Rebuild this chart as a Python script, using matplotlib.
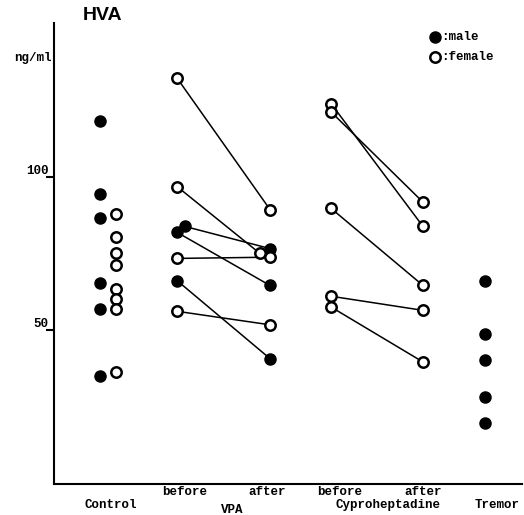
#!/usr/bin/env python3
import matplotlib
matplotlib.use('Agg')
import matplotlib.pyplot as plt

# HVA levels (ng/ml)
control_male = [118.2, 94.5, 86.7, 65.3, 56.8, 35.1]
control_female = [87.7, 80.5, 75.0, 71.1, 63.6, 60.1, 56.8, 36.4]

vpa_before = [132.1, 96.8, 83.8, 81.9, 73.4, 66.2, 56.2]
vpa_after = [89.3, 75.0, 76.6, 64.6, 73.8, 40.8, 51.8]
vpa_sex = ['f', 'f', 'm', 'm', 'f', 'm', 'f']

cypro_before = [123.8, 121.1, 89.7, 61.1, 57.6]
cypro_after = [83.8, 91.7, 64.6, 56.5, 39.7]
cypro_sex = ['f', 'f', 'f', 'f', 'f']

tremor_male = [66.2, 48.9, 40.5, 28.3, 19.8]

# column positions (x in axis units)
X_CTRL_M, X_CTRL_F = 100, 116
X_VPA_B, X_VPA_A = 177, 270
X_CYP_B, X_CYP_A = 331, 423
X_TREM = 485
vpa_before_dx = [0, 0, 8, 0, 0, 0, 0]
vpa_after_dx = [0, -10, 0, 0, 0, 0, 0]

MONO = 'Liberation Mono'


def dot(ax, x, y, sex):
    if sex == 'm':
        ax.plot(x, y, 'o', color='black', ms=8, zorder=3, clip_on=False)
    else:
        ax.plot(x, y, 'o', mfc='white', mec='black', mew=1.8, ms=7.5,
                zorder=3, clip_on=False)


def main():
    fig = plt.figure(figsize=(5.24, 5.15), dpi=100)
    ax = fig.add_axes([54 / 524, 31 / 515, 468 / 524, 461 / 515])

    for v in control_male:
        dot(ax, X_CTRL_M, v, 'm')
    for v in control_female:
        dot(ax, X_CTRL_F, v, 'f')

    for b, a, s, db, da in zip(vpa_before, vpa_after, vpa_sex,
                               vpa_before_dx, vpa_after_dx):
        ax.plot([X_VPA_B + db, X_VPA_A + da], [b, a], '-', color='black',
                lw=1.1, zorder=2)
        dot(ax, X_VPA_B + db, b, s)
        dot(ax, X_VPA_A + da, a, s)

    for b, a, s in zip(cypro_before, cypro_after, cypro_sex):
        ax.plot([X_CYP_B, X_CYP_A], [b, a], '-', color='black', lw=1.1,
                zorder=2)
        dot(ax, X_CYP_B, b, s)
        dot(ax, X_CYP_A, a, s)

    for v in tremor_male:
        dot(ax, X_TREM, v, 'm')

    ax.set_xlim(54, 522)
    ax.set_ylim(0, 150)
    ax.spines['top'].set_visible(False)
    ax.spines['right'].set_visible(False)
    ax.spines['left'].set_linewidth(1.5)
    ax.spines['bottom'].set_linewidth(1.5)
    ax.set_xticks([])
    ax.set_yticks([50, 100])
    ax.set_yticklabels(['50', '100'], fontfamily=MONO, fontweight='bold',
                       fontsize=9, va='bottom')
    ax.tick_params(axis='y', length=6, width=1.5, pad=-2)

    ax.text(-0.005, 138.6, 'ng/ml', transform=ax.get_yaxis_transform(),
            ha='right', va='center', fontfamily=MONO, fontweight='bold',
            fontsize=9)
    fig.text(83 / 524, 1 - 16 / 515, 'HVA', fontfamily='Liberation Sans',
             fontweight='bold', fontsize=14, ha='left', va='center')

    # legend
    dot(ax, 435, 145.5, 'm')
    dot(ax, 435, 139.0, 'f')
    ax.text(441, 145.5, ':male', fontfamily=MONO, fontweight='bold',
            fontsize=9, va='center')
    ax.text(441, 139.0, ':female', fontfamily=MONO, fontweight='bold',
            fontsize=9, va='center')

    # category labels
    kw = dict(fontfamily=MONO, fontweight='bold', fontsize=9, ha='center',
              va='center', clip_on=False)
    for x, lab in [(185, 'before'), (267, 'after'), (340, 'before'),
                   (423, 'after')]:
        ax.text(x, -2.6, lab, **kw)
    for x, lab in [(111, 'Control'), (388, 'Cyproheptadine'),
                   (497, 'Tremor')]:
        ax.text(x, -6.9, lab, **kw)
    ax.text(232, -8.5, 'VPA', **kw)

    fig.savefig('out.png', dpi=100)


if __name__ == '__main__':
    main()
